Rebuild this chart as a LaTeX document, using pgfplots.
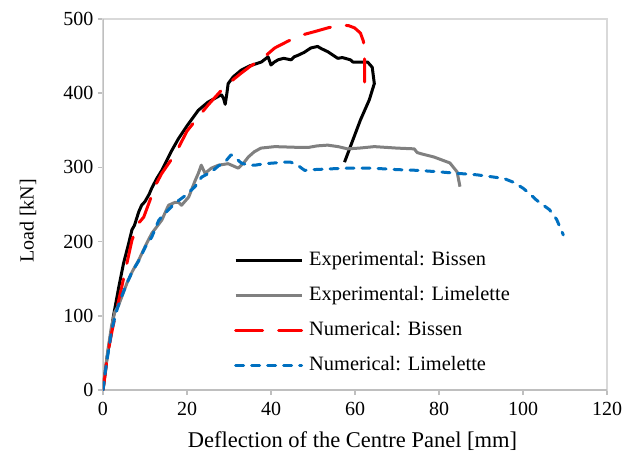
\documentclass[border=0pt]{standalone}
\usepackage{fontspec}
\setmainfont{Liberation Serif}
\usepackage{pgfplots}
\pgfplotsset{compat=1.18}
\definecolor{axgray}{RGB}{191,191,191}
\definecolor{boxgray}{RGB}{217,217,217}
\definecolor{expgray}{RGB}{128,128,128}
\definecolor{numblue}{RGB}{0,112,192}
\definecolor{numred}{RGB}{255,0,0}
\newcommand{\tf}{\fontsize{20bp}{24bp}\selectfont}
\newcommand{\lf}{\fontsize{20.4bp}{24bp}\selectfont}
\newcommand{\xf}{\fontsize{22.5bp}{27bp}\selectfont}
\newcommand{\yf}{\fontsize{20bp}{24bp}\selectfont}
\begin{document}
\begin{tikzpicture}
\begin{axis}[
  scale only axis, width=504bp, height=371bp,
  xmin=0, xmax=120, ymin=0, ymax=500,
  xtick={0,20,...,120}, ytick={0,100,...,500},
  axis line style={boxgray, line width=1.2bp},
  tick style={axgray, line width=1.5bp},
  tick align=outside, major tick length=5bp,
  xtick pos=left, ytick pos=left,
  ticklabel style={font=\tf},
  xticklabel style={yshift=-4bp},
  yticklabel style={xshift=-1bp},
  /pgf/number format/assume math mode=true,
  xlabel={Deflection of the Centre Panel [mm]},
  ylabel={Load [kN]},
  xlabel style={font=\xf, at={(axis description cs:0.495,-0.1375)}, anchor=center},
  ylabel style={font=\yf, at={(axis description cs:-0.1488,0.4555)}, anchor=center},
  legend style={at={(axis cs:31.2,187.6)}, anchor=north west, draw=none, fill=none,
    font=\lf, row sep=16bp, column sep=6bp, inner sep=0pt,
    nodes={inner sep=0pt, text height=14bp, text depth=5bp}},
  legend cell align=left,
  legend image code/.code={\draw[#1] (0bp,0bp) -- (66bp,0bp);},
]
\draw[axgray, line width=2.5bp] (rel axis cs:0,1) -- (rel axis cs:0,0) -- (rel axis cs:1,0);

% Experimental: Bissen
\addplot[black, line width=3bp, line join=round] coordinates {
(0,0) (1,45) (2,80) (2.5,100) (3.8,140) (4.9,171) (6,195) (6.9,216) (7.5,222)
(8.5,240) (9.2,249) (10,254) (11,264) (11.6,272) (12.8,285) (14,296) (16.4,323)
(18,339) (20,356) (22.7,377) (25,388) (28.2,398) (28.7,393) (29.1,385) (29.5,400)
(29.8,413) (31,422) (32.9,431) (35,437) (37.7,442) (39.3,449) (40,438) (40.8,442)
(41.7,445) (43,447) (44.8,445) (45.5,449) (46.4,451) (47.9,455) (49.5,461) (51.1,463)
(52,460) (53.5,456) (55.9,447) (57,448) (58.9,445) (59.5,442) (60.6,442) (63,442)
(64.1,435) (64.6,413) (63.4,391) (61.3,364) (57.5,307)
};
\addlegendentry{Experimental: Bissen}

% Experimental: Limelette
\addplot[expgray, line width=3bp, line join=round] coordinates {
(0,0) (0.5,25) (1.2,55) (2,85) (2.8,105) (3.7,114) (5.7,144) (7,160) (8.5,175)
(10,193) (11.6,211) (14,229) (15.6,249) (17.2,253) (18,253) (18.7,249) (20.4,260)
(22,283) (22.7,292) (23.4,303) (24.3,292) (25.8,299) (27.5,303) (29.8,305) (31,302)
(32.2,299) (33.5,306) (34.6,314) (36,321) (37.6,326) (40.9,328) (46.4,327) (49,327)
(51,329) (53.5,330) (56,328) (58.2,325) (61,326) (64.6,328) (70,326) (74.1,325)
(74.8,320) (76,318) (78.8,314) (82.6,306) (84.3,294) (85,274)
};
\addlegendentry{Experimental: Limelette}

% Numerical: Bissen
\addplot[numred, line width=3bp, line cap=round, line join=round, dash pattern=on 27bp off 16bp] coordinates {
(0,0) (0.5,20) (1,45) (2.2,81) (3.3,110) (4.5,140) (6.9,202) (8.5,225) (9.7,233)
(12.5,276) (14,292) (17.3,319) (20,349) (22.7,368) (25,384) (28.2,404) (30.5,416)
(32.9,427) (35,436) (37.6,445) (40.9,461) (44,470) (47.1,478) (50.4,483) (53.5,488)
(56.6,492) (58.5,491) (59.9,488) (61.3,481) (62,470) (62.2,458) (62.3,440) (62.3,415)
};
\addlegendentry{Numerical: Bissen}

% Numerical: Limelette
\addplot[numblue, line width=3bp, line cap=round, line join=round, dash pattern=on 8bp off 8bp] coordinates {
(0,0) (0.5,22) (0.95,40) (2.1,81) (3.1,104) (4,120) (5.7,144) (7,160) (8.5,174)
(10.1,193) (11.6,206) (13.3,229) (15.6,243) (17.2,252) (19.6,262) (21.9,274)
(23.5,287) (25.8,294) (27.5,302) (29,307) (30.5,317) (31.5,313) (32.9,306)
(34.5,303) (36.2,303) (38.5,305) (40.9,306) (42.5,307) (44.7,307) (46,304)
(46.8,301) (48,296) (50,297) (54,298) (58.2,299) (64,299) (70,297) (75,296)
(80,294) (84.3,292) (89,290) (93,287) (95.5,285) (97.7,280) (100,272) (101.5,265)
(103.2,256) (106.3,243) (108,230) (109.6,209)
};
\addlegendentry{Numerical: Limelette}
\end{axis}
\pgfresetboundingbox
\path[use as bounding box] ([shift={(-103bp,-73bp)}]current axis.south west) rectangle ([shift={(17bp,19bp)}]current axis.north east);
\end{tikzpicture}
\end{document}
